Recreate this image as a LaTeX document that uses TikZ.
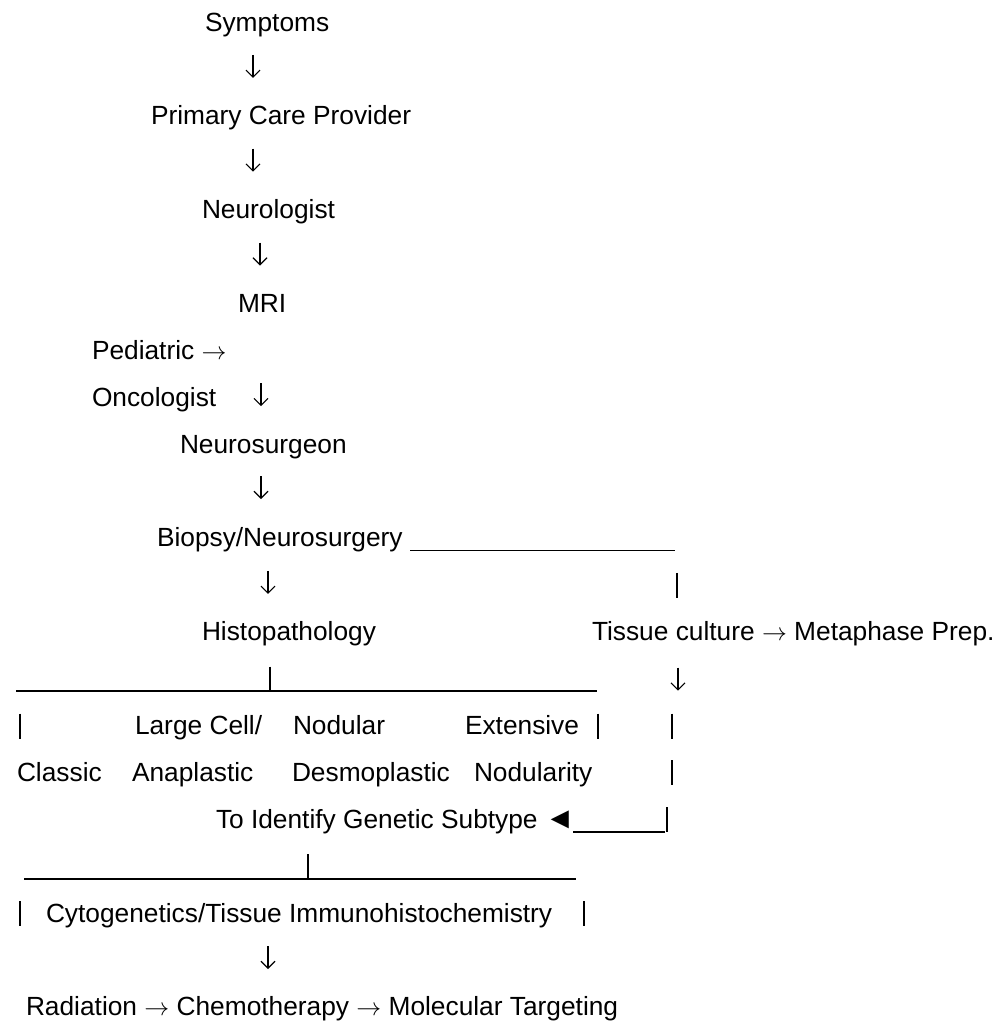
\documentclass[tikz,border=0pt]{standalone}
\usepackage{fontspec}
\setmainfont{Liberation Sans}
\usetikzlibrary{arrows.meta}
\newcommand{\rarr}{\ensuremath{\rightarrow}}
\tikzset{
  txt/.style={anchor=base west, inner sep=0pt, outer sep=0pt, font=\fontsize{26.3}{31}\selectfont},
  conn/.style={line width=1.1pt, -{Straight Barb[length=7pt,width=14pt]}},
  rule/.style={line width=1.6pt},
  bar/.style={line width=1.5pt},
}
\begin{document}
\begin{tikzpicture}[x=1pt,y=-1pt]
\useasboundingbox[fill=white] (0,0) rectangle (999,1021);
% text nodes
\node[txt] (sym)  at (205,31)    {Symptoms};
\node[txt] (pcp)  at (151,124.8) {Primary Care Provider};
\node[txt] (neu)  at (202,218.6) {Neurologist};
\node[txt] (mri)  at (238,312.4) {MRI};
\node[txt] (ped)  at (92,359.3)  {Pediatric \rarr};
\node[txt] (onc)  at (92,406.2)  {Oncologist};
\node[txt] (nsg)  at (180,453.1) {Neurosurgeon};
\node[txt] (bio)  at (157,546.9) {Biopsy/Neurosurgery};
\node[txt] (his)  at (202,640.7) {Histopathology};
\node[txt] (tis)  at (592,640.7) {Tissue culture \rarr{} Metaphase Prep.};
\node[txt] (lcl)  at (135,734.5) {Large Cell/};
\node[txt] (nod)  at (293,734.5) {Nodular};
\node[txt] (ext)  at (465,734.5) {Extensive};
\node[txt] (cla)  at (17,781.4)  {Classic};
\node[txt] (ana)  at (132,781.4) {Anaplastic};
\node[txt] (des)  at (292,781.4) {Desmoplastic};
\node[txt] (nty)  at (474,781.4) {Nodularity};
\node[txt] (gen)  at (216,828.3) {To Identify Genetic Subtype \scalebox{1.15}{◄}};
\node[txt] (cyt)  at (46,922.1)  {Cytogenetics/Tissue Immunohistochemistry};
\node[txt] (rad)  at (26,1015.9) {Radiation \rarr{} Chemotherapy \rarr{} Molecular Targeting};
% connector end points
\coordinate (a1s) at (253,54.9);  \coordinate (a1e) at (253,77.9);
\coordinate (a2s) at (253,148.7); \coordinate (a2e) at (253,171.7);
\coordinate (a3s) at (260,242.5); \coordinate (a3e) at (260,265.5);
\coordinate (a4s) at (261,383.2); \coordinate (a4e) at (261,406.2);
\coordinate (a5s) at (261,476);   \coordinate (a5e) at (261,499);
\coordinate (a6s) at (268,570.8); \coordinate (a6e) at (268,593.8);
\coordinate (a7s) at (678,667.6); \coordinate (a7e) at (678,690.6);
\coordinate (a8s) at (268,946);   \coordinate (a8e) at (268,969);
% vertical arrows
\draw[conn] (a1s) -- (a1e);
\draw[conn] (a2s) -- (a2e);
\draw[conn] (a3s) -- (a3e);
\draw[conn] (a4s) -- (a4e);
\draw[conn] (a5s) -- (a5e);
\draw[conn] (a6s) -- (a6e);
\draw[conn] (a7s) -- (a7e);
\draw[conn] (a8s) -- (a8e);
% underscore rules
\coordinate (r1a) at (410,550.4); \coordinate (r1b) at (675,550.4);
\draw[rule] (r1a) -- (r1b);
\coordinate (r2a) at (16,691.1);  \coordinate (r2b) at (597,691.1);
\draw[rule] (r2a) -- (r2b);
\coordinate (r3a) at (573,831.8); \coordinate (r3b) at (665,831.8);
\draw[rule] (r3a) -- (r3b);
\coordinate (r4a) at (24,878.7);  \coordinate (r4b) at (576,878.7);
\draw[rule] (r4a) -- (r4b);
% vertical bars
\coordinate (p1a) at (677,572.8); \coordinate (p1b) at (677,597.8);
\draw[bar] (p1a) -- (p1b);
\coordinate (p2a) at (270,666.6); \coordinate (p2b) at (270,691.6);
\draw[bar] (p2a) -- (p2b);
\coordinate (p3a) at (20,713.5);  \coordinate (p3b) at (20,738.5);
\draw[bar] (p3a) -- (p3b);
\coordinate (p4a) at (598,713.5); \coordinate (p4b) at (598,738.5);
\draw[bar] (p4a) -- (p4b);
\coordinate (p5a) at (672,713.5); \coordinate (p5b) at (672,738.5);
\draw[bar] (p5a) -- (p5b);
\coordinate (p6a) at (672,760.4); \coordinate (p6b) at (672,785.4);
\draw[bar] (p6a) -- (p6b);
\coordinate (p7a) at (667,807.3); \coordinate (p7b) at (667,832.3);
\draw[bar] (p7a) -- (p7b);
\coordinate (p8a) at (308,854.2); \coordinate (p8b) at (308,879.2);
\draw[bar] (p8a) -- (p8b);
\coordinate (p9a) at (20,901.1);  \coordinate (p9b) at (20,926.1);
\draw[bar] (p9a) -- (p9b);
\coordinate (p10a) at (584,901.1); \coordinate (p10b) at (584,926.1);
\draw[bar] (p10a) -- (p10b);
\end{tikzpicture}
\end{document}
